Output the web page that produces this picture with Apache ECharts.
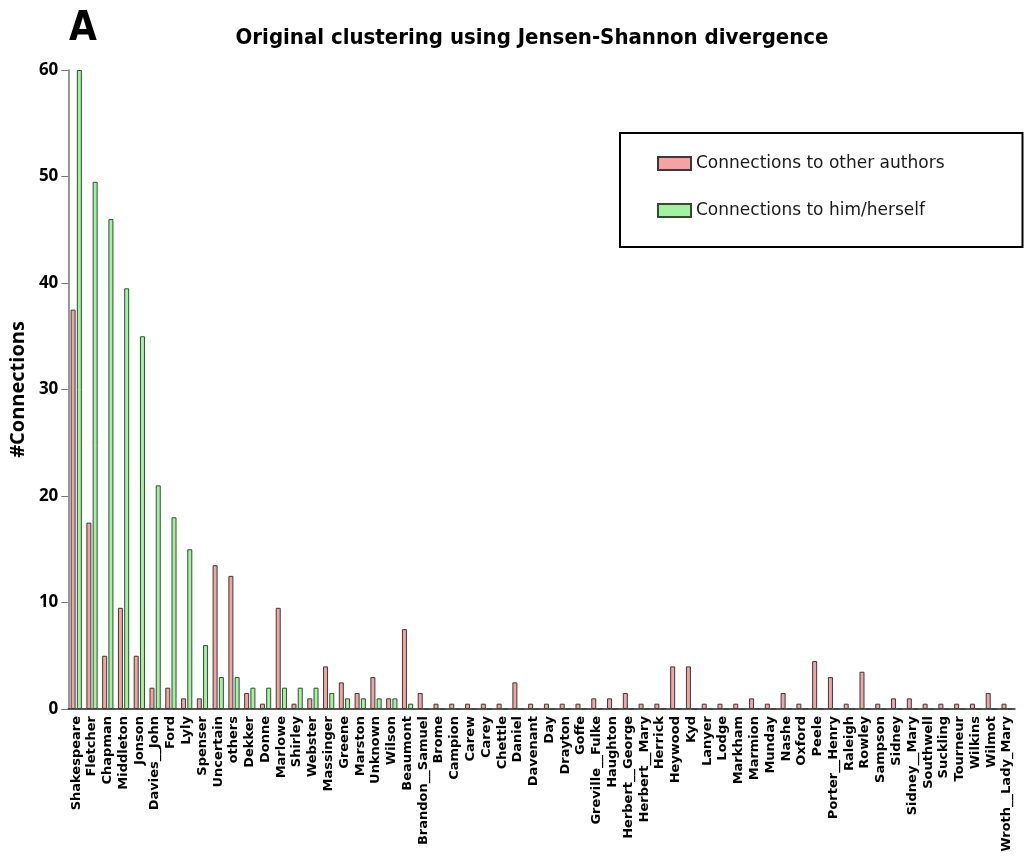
<!DOCTYPE html>
<html>
<head>
<meta charset="utf-8">
<script src="https://cdn.jsdelivr.net/npm/echarts@6/dist/echarts.min.js"></script>
<style>
  html, body { margin: 0; padding: 0; background: #fff; }
  #chart { width: 1025px; height: 860px; }
</style>
</head>
<body>
<div id="chart"></div>
<script>
// Authors along the x axis
const authors = [
  'Shakespeare', 'Fletcher', 'Chapman', 'Middleton', 'Jonson', 'Davies__John', 'Ford', 'Lyly',
  'Spenser', 'Uncertain', 'others', 'Dekker', 'Donne', 'Marlowe', 'Shirley', 'Webster',
  'Massinger', 'Greene', 'Marston', 'Unknown', 'Wilson', 'Beaumont', 'Brandon__Samuel', 'Brome',
  'Campion', 'Carew', 'Carey', 'Chettle', 'Daniel', 'Davenant', 'Day', 'Drayton',
  'Goffe', 'Greville__Fulke', 'Haughton', 'Herbert__George', 'Herbert__Mary', 'Herrick', 'Heywood', 'Kyd',
  'Lanyer', 'Lodge', 'Markham', 'Marmion', 'Munday', 'Nashe', 'Oxford', 'Peele',
  'Porter__Henry', 'Raleigh', 'Rowley', 'Sampson', 'Sidney', 'Sidney__Mary', 'Southwell', 'Suckling',
  'Tourneur', 'Wilkins', 'Wilmot', 'Wroth__Lady_Mary'
];

// Connections to other authors
const otherAuthors = [
  37.5, 17.5, 5, 9.5, 5, 2, 2, 1,
  1, 13.5, 12.5, 1.5, 0.5, 9.5, 0.5, 1,
  4, 2.5, 1.5, 3, 1, 7.5, 1.5, 0.5,
  0.5, 0.5, 0.5, 0.5, 2.5, 0.5, 0.5, 0.5,
  0.5, 1, 1, 1.5, 0.5, 0.5, 4, 4,
  0.5, 0.5, 0.5, 1, 0.5, 1.5, 0.5, 4.5,
  3, 0.5, 3.5, 0.5, 1, 1, 0.5, 0.5,
  0.5, 0.5, 1.5, 0.5
];

// Connections to him/herself
const selfConnections = [
  60, 49.5, 46, 39.5, 35, 21, 18, 15,
  6, 3, 3, 2, 2, 2, 2, 2,
  1.5, 1, 1, 1, 1, 0.5, 0, 0,
  0, 0, 0, 0, 0, 0, 0, 0,
  0, 0, 0, 0, 0, 0, 0, 0,
  0, 0, 0, 0, 0, 0, 0, 0,
  0, 0, 0, 0, 0, 0, 0, 0,
  0, 0, 0, 0
];

const seriesNames = ['Connections to other authors', 'Connections to him/herself'];
const yMin = 0, yMax = 60, yStep = 10;

const chart = echarts.init(document.getElementById('chart'), null, { renderer: 'canvas' });

chart.setOption({
  animation: false,
  backgroundColor: '#ffffff',
  title: [
    {
      text: 'Original clustering using Jensen-Shannon divergence',
      left: 527, top: 22, textAlign: 'center',
      textStyle: { fontFamily: 'DejaVu Sans Condensed', fontWeight: 'bold', fontSize: 22, color: '#000' }
    },
    {
      text: 'A',
      left: 64, top: 5,
      textStyle: { fontFamily: 'DejaVu Sans Condensed', fontWeight: 'bold', fontSize: 40, color: '#000' }
    }
  ],
  legend: {
    orient: 'vertical',
    left: 620, top: 133,
    padding: [22, 78, 28, 37],
    itemGap: 30,
    itemWidth: 33, itemHeight: 13,
    borderColor: '#000', borderWidth: 2,
    icon: 'rect',
    data: seriesNames,
    textStyle: { fontFamily: 'DejaVu Sans', fontSize: 17, color: '#1a1a1a' }
  },
  grid: { left: 67, right: 10, top: 70, bottom: 151, containLabel: false },
  xAxis: {
    type: 'category',
    data: authors,
    axisLine: { lineStyle: { color: '#222', width: 1.5 } },
    axisTick: { alignWithLabel: true, length: 6, lineStyle: { color: '#222' } },
    axisLabel: {
      rotate: 90, interval: 0, margin: 7,
      fontFamily: 'DejaVu Sans', fontWeight: 'bold', fontSize: 13, color: '#000'
    }
  },
  yAxis: {
    type: 'value',
    min: yMin, max: yMax, interval: yStep,
    name: '#Connections',
    nameLocation: 'middle',
    nameGap: 40,
    nameTextStyle: { fontFamily: 'Open Sans', fontWeight: 'bold', fontSize: 20, color: '#000' },
    splitLine: { show: false },
    axisLine: { show: true, lineStyle: { color: '#777', width: 1.5 } },
    axisTick: { show: true, length: 7, lineStyle: { color: '#777' } },
    axisLabel: { fontFamily: 'Open Sans', fontWeight: 'bold', fontSize: 17, color: '#000', margin: 10 }
  },
  series: [
    {
      name: seriesNames[0], type: 'bar', data: otherAuthors,
      barWidth: 5, barGap: '25%',
      itemStyle: { color: '#f4a2a2', borderColor: '#3a3a3a', borderWidth: 1 }
    },
    {
      name: seriesNames[1], type: 'bar', data: selfConnections,
      barWidth: 5,
      itemStyle: { color: '#a2f2a2', borderColor: '#2f4f2f', borderWidth: 1 }
    }
  ]
});
</script>
</body>
</html>
